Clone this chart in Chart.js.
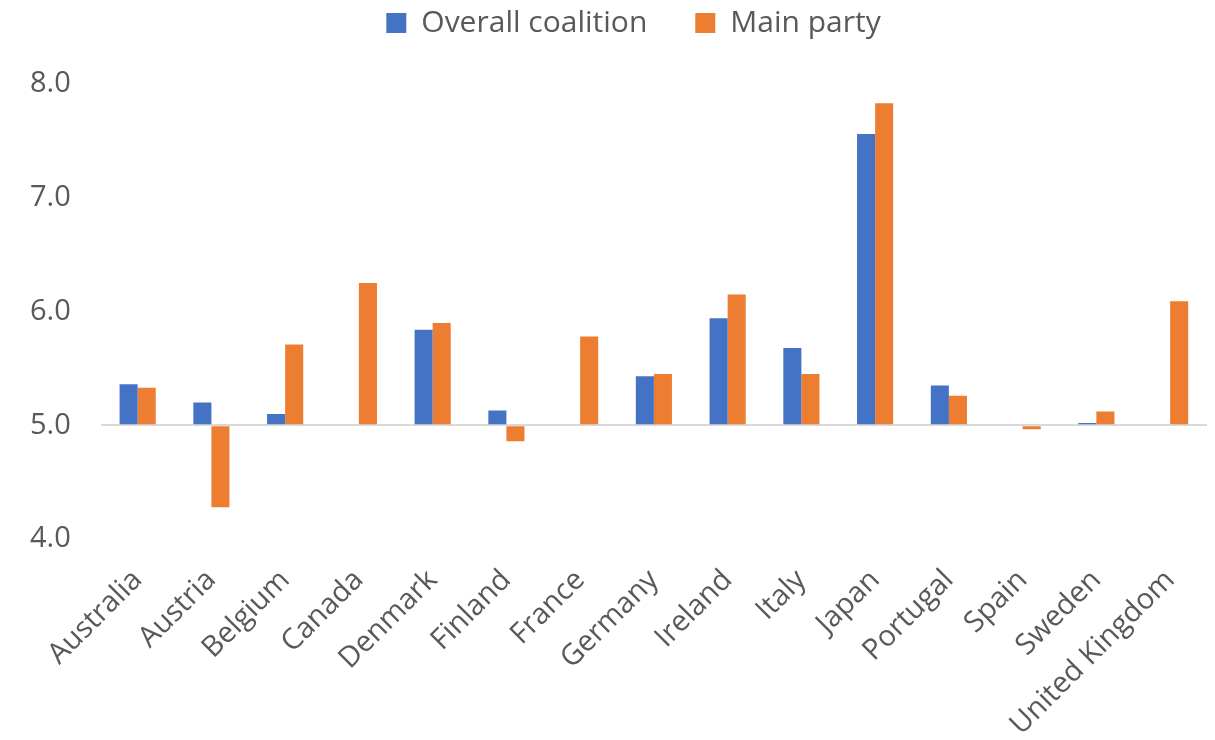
<!DOCTYPE html>
<html>
<head>
<meta charset="utf-8">
<script src="https://cdn.jsdelivr.net/npm/chart.js@4"></script>
<style>
  html, body { margin: 0; padding: 0; background: #fff; }
  #wrap { width: 1215px; height: 740px; }
</style>
</head>
<body>
<div id="wrap"><canvas id="chart"></canvas></div>
<script>
const countries = ["Australia", "Austria", "Belgium", "Canada", "Denmark", "Finland", "France",
  "Germany", "Ireland", "Italy", "Japan", "Portugal", "Spain", "Sweden", "United Kingdom"];
const overallCoalition = [5.36, 5.20, 5.10, null, 5.84, 5.13, null, 5.43, 5.94, 5.68, 7.56, 5.35, null, 5.02, null];
const mainParty = [5.33, 4.28, 5.71, 6.25, 5.90, 4.86, 5.78, 5.45, 6.15, 5.45, 7.83, 5.26, 4.965, 5.12, 6.09];
const yTicks = [4, 5, 6, 7, 8];

const txt = "#595959";
const fontFam = "'Open Sans', 'Noto Sans', sans-serif";

// legend sits high, with a bit less space under it
const legendGap = {
  id: "legendGap",
  beforeInit(chart) {
    const lg = chart.legend;
    const fit = lg.fit;
    lg.fit = function () {
      fit.bind(lg)();
      this.height -= 4;
    };
    const draw = lg.draw;
    lg.draw = function () {
      const ctx = chart.ctx;
      ctx.save();
      ctx.translate(30, -40);
      draw.bind(lg)();
      ctx.restore();
    };
  }
};

new Chart(document.getElementById("chart"), {
  type: "bar",
  data: {
    labels: countries,
    datasets: [
      { label: "Overall coalition", data: overallCoalition, backgroundColor: "#4472C4", base: 5,
        categoryPercentage: 0.49, barPercentage: 1.0 },
      { label: "Main party", data: mainParty, backgroundColor: "#ED7D31", base: 5,
        categoryPercentage: 0.49, barPercentage: 1.0 }
    ]
  },
  plugins: [legendGap],
  options: {
    responsive: true,
    maintainAspectRatio: false,
    animation: false,
    layout: { padding: { left: 0, right: 8, top: 0, bottom: 0 } },
    plugins: {
      tooltip: { enabled: false },
      legend: {
        position: "top",
        labels: {
          color: txt,
          font: { family: fontFam, size: 30 },
          boxWidth: 20,
          boxHeight: 20,
          padding: 48
        }
      }
    },
    scales: {
      x: {
        afterFit: axis => { axis.height = 201; },
        grid: { display: false },
        border: { display: false },
        ticks: {
          color: txt,
          font: { family: fontFam, size: 29 },
          minRotation: 45,
          maxRotation: 45,
          autoSkip: false,
          padding: 16
        }
      },
      y: {
        min: 4,
        max: 8,
        afterBuildTicks: axis => { axis.ticks = yTicks.map(v => ({ value: v })); },
        border: { display: false },
        grid: {
          drawTicks: false,
          lineWidth: 2,
          color: c => (c.tick && c.tick.value === 5 ? "#d9d9d9" : "rgba(0,0,0,0)")
        },
        ticks: {
          color: txt,
          font: { family: fontFam, size: 29 },
          padding: 30,
          callback: v => Number(v).toFixed(1)
        }
      }
    }
  }
});
</script>
</body>
</html>
